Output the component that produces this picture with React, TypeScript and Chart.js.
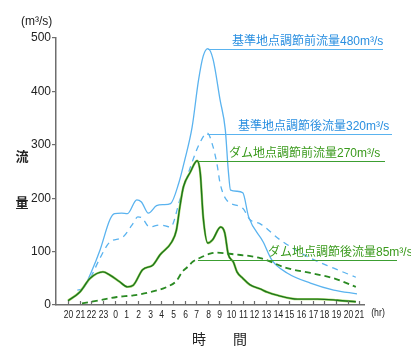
import React, { useEffect, useRef } from "react";
import { Chart, registerables } from "chart.js";

Chart.register(...registerables);

// hour offsets from 20:00 (t = 0) and their clock labels
const hourOffsets = [0, 1, 2, 3, 4, 5, 6, 7, 8, 9, 10, 11, 12, 13, 14, 15, 16, 17, 18, 19, 20, 21, 22, 23, 24, 25];
const hourLabels = ["20", "21", "22", "23", "0", "1", "2", "3", "4", "5", "6", "7", "8", "9", "10", "11", "12", "13", "14", "15", "16", "17", "18", "19", "20", "21"];
const yTicks = [0, 100, 200, 300, 400, 500];

// 基準地点調節前流量 (blue solid)
const baseBeforeT = [0.8, 1.3, 2.0, 2.75, 3.6, 4.0, 4.6, 5.1, 5.9, 6.3, 6.9, 7.6, 8.2, 8.8, 9.5, 10.0, 10.65, 11.2, 11.6, 12.0, 12.45, 13.05, 13.5, 13.75, 13.95, 14.5, 15.0, 15.5, 16.75, 17.5, 18.8, 20.8, 22.8, 24.8];
const baseBeforeV = [28, 31, 62, 103, 160, 171, 172, 171, 197, 193, 172, 186, 188, 190, 228, 270, 333, 421, 466, 480, 460, 384, 328, 253, 215, 213, 210, 165, 118, 84, 60, 41, 28, 21];

// 基準地点調節後流量 (blue dashed)
const baseAfterT = [0.8, 1.9, 2.75, 3.6, 4.7, 5.5, 6.0, 6.3, 7.0, 7.9, 8.8, 9.6, 10.5, 11.3, 11.95, 12.45, 12.8, 13.05, 13.6, 15.0, 15.6, 16.5, 18.2, 20.8, 22.8, 24.7];
const baseAfterV = [19, 50, 88, 118, 127, 150, 165, 164, 146, 150, 146, 197, 258, 303, 322, 296, 262, 228, 197, 181, 160, 152, 122, 88, 69, 52];

// ダム地点調節前流量 (green solid)
const damBeforeT = [0, 1.0, 1.9, 3.0, 3.6, 4.4, 5.1, 5.6, 6.4, 7.3, 7.9, 8.9, 9.3, 9.6, 9.9, 10.5, 11.08, 11.35, 11.6, 12.0, 12.4, 13.1, 13.45, 13.75, 14.2, 14.5, 15.0, 15.6, 16.5, 17.1, 18.0, 19.7, 21.4, 23.1, 24.7];
const damBeforeV = [8, 24, 50, 62, 56, 44, 34, 37, 66, 75, 94, 118, 140, 184, 221, 249, 270, 247, 165, 116, 122, 146, 135, 95, 80, 62, 50, 38, 30, 24, 18, 11, 11, 9, 6];

// ダム地点調節後流量 (green dashed)
const damAfterT = [1.2, 2.75, 4.2, 5.6, 7.05, 8.5, 9.3, 9.8, 10.3, 10.7, 11.3, 12.2, 12.8, 14.2, 16.5, 18.8, 20.8, 22.8, 24.7];
const damAfterV = [3, 9, 15, 18, 24, 34, 45, 62, 72, 81, 88, 96, 98, 95, 88, 69, 60, 50, 34];

// peak reference lines
const refValues = [480, 320, 270, 85];
const refStartT = [12.0, 11.95, 11.2, 11.15];
const refLabels = ["基準地点調節前流量480m³/s", "基準地点調節後流量320m³/s", "ダム地点調節前流量270m³/s", "ダム地点調節後流量85m³/s"];

const BLUE = "#5ab3ef";
const BLUE_TEXT = "#2a8fe0";
const GREEN = "#1c741c";
const GREEN_HALO = "#a8d86a";
const GREEN_LINE = "#3c9e32";
const GREEN_TEXT = "#3a9a1c";
const AXIS = "#6e6e6e";

const toPts = (t: number[], v: number[]) => t.map((x, i) => ({ x, y: v[i] }));

const overlay = {
  id: "overlay",
  afterDraw(chart: any) {
    const { ctx, chartArea, scales } = chart;
    const xs = scales.x;
    const ys = scales.y;
    ctx.save();
    // x tick marks (inward) and condensed hour labels
    ctx.strokeStyle = AXIS;
    ctx.lineWidth = 1.2;
    ctx.fillStyle = "#222";
    ctx.font = "11.5px 'Liberation Sans', sans-serif";
    ctx.textAlign = "center";
    ctx.textBaseline = "middle";
    xs.ticks.forEach((t: any) => {
      const px = Math.round(xs.getPixelForValue(t.value)) + 0.5;
      ctx.beginPath();
      ctx.moveTo(px, chartArea.bottom);
      ctx.lineTo(px, chartArea.bottom - 4);
      ctx.stroke();
      const i = hourOffsets.indexOf(t.value);
      if (i >= 0) {
        ctx.save();
        ctx.translate(px, chartArea.bottom + 10);
        ctx.scale(0.74, 1);
        ctx.fillText(hourLabels[i], 0, 0);
        ctx.restore();
      }
    });
    // reference lines + labels
    const lineExtra = [19, 28, 21, 33];
    const labelLeft = [232, 238, 229, 268];
    const colors = [BLUE, BLUE, GREEN_LINE, GREEN_LINE];
    const textColors = [BLUE_TEXT, BLUE_TEXT, GREEN_TEXT, GREEN_TEXT];
    refValues.forEach((v, i) => {
      const py = Math.round(ys.getPixelForValue(v)) + 0.5;
      const x0 = xs.getPixelForValue(refStartT[i]);
      const x1 = chartArea.right + lineExtra[i];
      ctx.strokeStyle = colors[i];
      ctx.lineWidth = 1.2;
      ctx.beginPath();
      ctx.moveTo(x0, py);
      ctx.lineTo(x1, py);
      ctx.stroke();
      ctx.fillStyle = textColors[i];
      ctx.font = "12px 'Liberation Sans', 'Noto Sans CJK JP', sans-serif";
      ctx.textAlign = "left";
      ctx.textBaseline = "middle";
      ctx.fillText(refLabels[i], labelLeft[i], py - 7.5);
    });
    // axis titles
    ctx.fillStyle = "#222";
    ctx.font = "12px 'Liberation Sans', 'Noto Sans CJK JP', sans-serif";
    ctx.textAlign = "left";
    ctx.textBaseline = "middle";
    ctx.fillText("(m³/s)", 21, 22);
    ctx.font = "bold 13px 'Noto Sans CJK JP', sans-serif";
    ctx.textAlign = "center";
    ctx.fillText("流", 22, 156);
    ctx.fillText("量", 22, 202);
    ctx.font = "14px 'Noto Sans CJK JP', sans-serif";
    ctx.fillText("時", 199, 339);
    ctx.fillText("間", 240, 339);
    ctx.save();
    ctx.translate(378, 313);
    ctx.scale(0.8, 1);
    ctx.font = "11px 'Liberation Sans', sans-serif";
    ctx.fillText("(hr)", 0, 0);
    ctx.restore();
    ctx.restore();
  },
};

export default function App() {
  const ref = useRef<HTMLCanvasElement | null>(null);
  useEffect(() => {
    document.body.style.margin = "0";
    const canvas = ref.current;
    if (!canvas) return;
    const common = { showLine: true, pointRadius: 0, cubicInterpolationMode: "monotone" as const, fill: false };
    const chart = new Chart(canvas, {
      type: "scatter",
      data: {
        datasets: [
          { ...common, label: "基準地点調節前流量", data: toPts(baseBeforeT, baseBeforeV), borderColor: BLUE, borderWidth: 1.3, order: 4 },
          { ...common, label: "基準地点調節後流量", data: toPts(baseAfterT, baseAfterV), borderColor: BLUE, borderWidth: 1.3, borderDash: [6, 5], order: 3 },
          { ...common, label: "halo", data: toPts(damBeforeT, damBeforeV), borderColor: GREEN_HALO, borderWidth: 2.4, order: 2 },
          { ...common, label: "ダム地点調節前流量", data: toPts(damBeforeT, damBeforeV), borderColor: GREEN, borderWidth: 1.4, order: 1 },
          { ...common, label: "ダム地点調節後流量", data: toPts(damAfterT, damAfterV), borderColor: "#2a8a22", borderWidth: 1.8, borderDash: [6, 4], order: 0 },
        ],
      },
      options: {
        animation: false,
        responsive: false,
        devicePixelRatio: 1,
        layout: { padding: { left: 0, right: 47, top: 38, bottom: 0 } },
        plugins: { legend: { display: false }, tooltip: { enabled: false } },
        scales: {
          x: {
            type: "linear",
            min: -1.03,
            max: 25.4,
            afterBuildTicks: (s: any) => {
              s.ticks = hourOffsets.map((v) => ({ value: v }));
            },
            afterFit: (s: any) => {
              s.height = 52;
            },
            grid: { display: true, drawOnChartArea: false, drawTicks: false },
            border: { color: AXIS, width: 1.5 },
            ticks: { display: false },
          },
          y: {
            min: 0,
            max: 500,
            afterBuildTicks: (s: any) => {
              s.ticks = yTicks.map((v) => ({ value: v }));
            },
            afterFit: (s: any) => {
              s.width = 56;
            },
            grid: { drawOnChartArea: false, drawTicks: true, tickLength: 4, color: AXIS, lineWidth: 1.2 },
            border: { color: AXIS, width: 1.5 },
            ticks: {
              padding: 1,
              color: "#222",
              font: { family: "'Liberation Sans', sans-serif", size: 12 },
            },
          },
        },
      },
      plugins: [overlay],
    });
    return () => chart.destroy();
  }, []);
  return (
    <div style={{ position: "fixed", left: 0, top: 0, width: 411, height: 357, background: "#fff" }}>
      <canvas ref={ref} width={411} height={357} />
    </div>
  );
}
